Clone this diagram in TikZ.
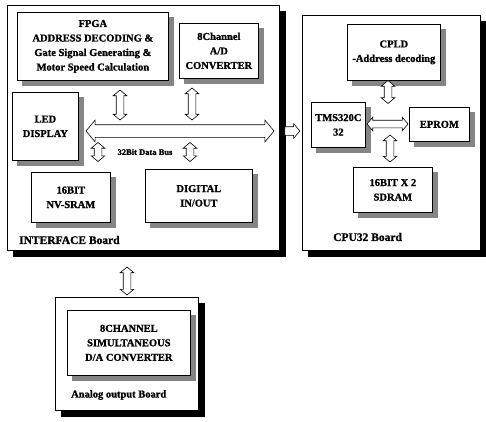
\documentclass[tikz,border=0pt]{standalone}
\usepackage{fontspec}
\setmainfont{Liberation Serif}[BoldFeatures={FakeBold=1.2}]
\usetikzlibrary{shapes.arrows}
\pgfdeclarelayer{bshadow}
\pgfdeclarelayer{boardlayer}
\pgfdeclarelayer{ishadow}
\pgfsetlayers{bshadow,boardlayer,ishadow,main}
\begin{document}
\begin{tikzpicture}[x=1pt,y=-1pt,
  board/.style={draw, line width=0.8pt, fill=white, anchor=north west, inner sep=0pt},
  box/.style={draw, line width=0.7pt, fill=white, anchor=north west, align=center, inner sep=0pt,
    font=\bfseries\fontsize{10.5}{14.5}\selectfont},
  bshade/.style={fill=black},
  ishade/.style={fill=black!48},
  blabel/.style={anchor=west, inner sep=0pt, font=\bfseries\fontsize{11.5}{13}\selectfont},
  darrow/.style={double arrow, draw, fill=white, line width=0.6pt, inner xsep=0pt, inner ysep=3.5pt,
    double arrow head extend=3pt, double arrow tip angle=100, minimum width=0pt},
  busarrow/.style={darrow, inner ysep=6pt, double arrow head extend=4.5pt},
  sarrow/.style={single arrow, draw, fill=white, line width=0.6pt, inner xsep=0pt, inner ysep=4pt,
    single arrow head extend=3pt, single arrow tip angle=100, minimum width=0pt}
]
\useasboundingbox (0,0) rectangle (486,421);

% boards
\begin{pgfonlayer}{boardlayer}
\node[board, minimum width=272, minimum height=245] (ifb) at (7,5) {};
\node[board, minimum width=178, minimum height=235] (cpub) at (302,15) {};
\node[board, minimum width=143, minimum height=113] (anb) at (55,297) {};
\end{pgfonlayer}
\begin{pgfonlayer}{bshadow}
\foreach \b in {ifb,cpub,anb}{
  \fill[bshade] ([shift={(6,6)}]\b.north west) rectangle ([shift={(6,6)}]\b.south east);
}
\end{pgfonlayer}

% interface board boxes
\node[box, minimum width=151, minimum height=68] (fpga) at (17,12)
  {FPGA\\ADDRESS DECODING \&\\Gate Signal Generating \&\\Motor Speed Calculation};
\node[box, minimum width=79, minimum height=55] (adc) at (179,23)
  {8Channel\\A/D\\CONVERTER};
\node[box, minimum width=66, minimum height=68] (led) at (12,92)
  {LED\\DISPLAY};
\node[box, minimum width=79, minimum height=50] (sram) at (31,172)
  {16BIT\\NV-SRAM};
\node[box, minimum width=107, minimum height=53] (dio) at (145,169)
  {DIGITAL\\IN/OUT};
\node[blabel] (iflabel) at (19,240) {INTERFACE Board};

% bus
\node[busarrow, minimum height=188] (bus) at (180,131) {};
\node[darrow, rotate=90, minimum height=30] (a1) at (120,105) {};
\node[darrow, rotate=90, minimum height=32] (a2) at (192,104) {};
\node[darrow, rotate=90, minimum height=19] (a3) at (98,152) {};
\node[darrow, rotate=90, minimum height=19] (a4) at (190,152) {};
\node[inner sep=0pt, font=\bfseries\fontsize{8.5}{10}\selectfont] (buslabel) at (145,152) {32Bit Data Bus};

% link to CPU board
\node[sarrow, minimum height=15] (link) at (290.5,131) {};

% CPU board boxes
\node[box, minimum width=93, minimum height=56] (cpld) at (347,24)
  {CPLD\\-Address decoding};
\node[box, minimum width=54, minimum height=45] (tms) at (311,102)
  {TMS320C\\32};
\node[box, minimum width=60, minimum height=34] (eprom) at (409,107)
  {EPROM};
\node[box, minimum width=79, minimum height=45] (sdram) at (353,167)
  {16BIT X 2\\SDRAM};
\node[blabel] (cpulabel) at (333,237) {CPU32 Board};

\node[darrow, rotate=90, minimum height=23] (c1) at (388,92) {};
\node[darrow, minimum height=41] (c2) at (387.5,124) {};
\node[darrow, rotate=90, minimum height=27] (c3) at (390,148.5) {};

% analog board
\node[darrow, rotate=90, minimum height=28] (d1) at (127,281) {};
\node[box, minimum width=123, minimum height=65] (dac) at (67,310)
  {8CHANNEL\\SIMULTANEOUS\\D/A CONVERTER};
\node[blabel, font=\bfseries\fontsize{10.5}{12}\selectfont] (anlabel) at (71,395) {Analog output Board};

% inner shadows
\begin{pgfonlayer}{ishadow}
\foreach \b in {fpga,adc,led,sram,dio,cpld,tms,eprom,sdram,dac}{
  \fill[ishade] ([shift={(5,5)}]\b.north west) rectangle ([shift={(5,5)}]\b.south east);
}
\end{pgfonlayer}
\end{tikzpicture}
\end{document}
